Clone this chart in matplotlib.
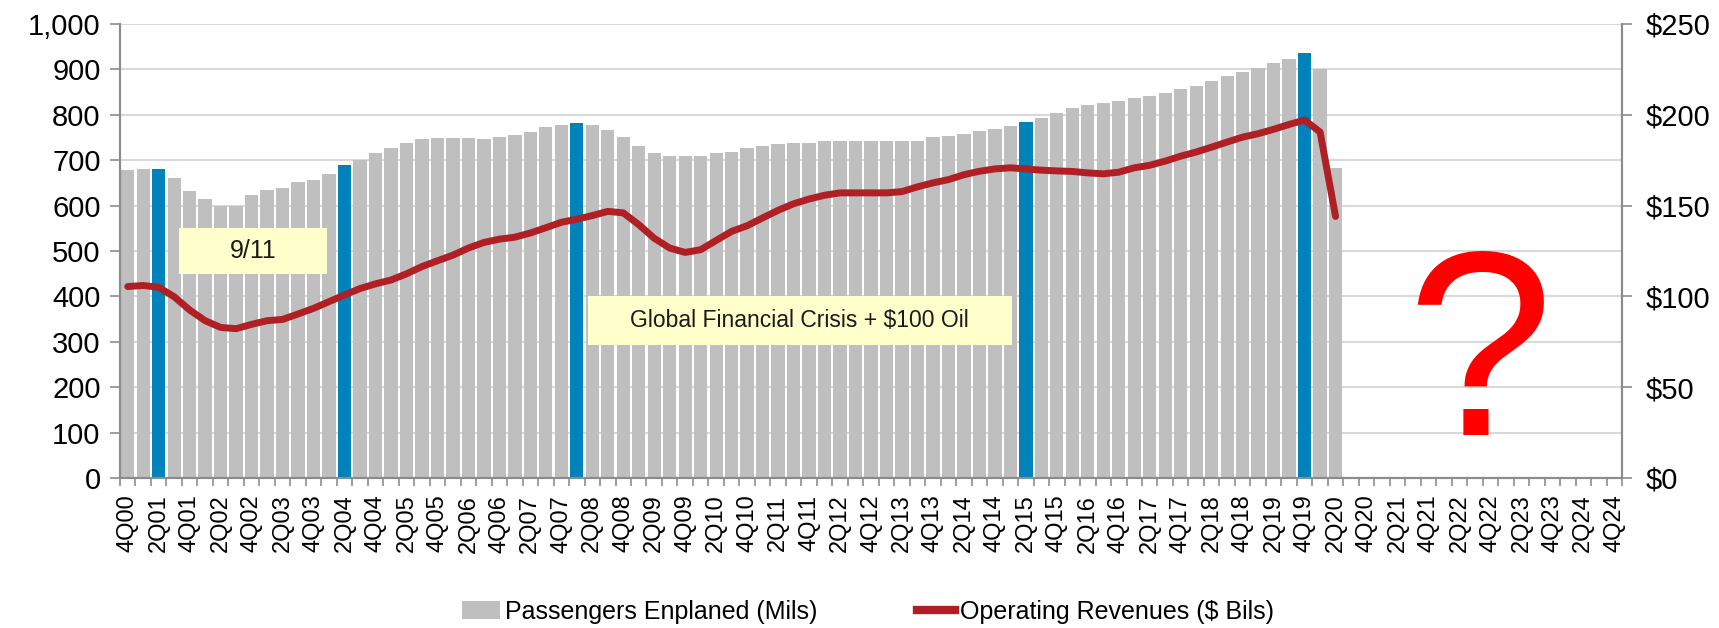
import numpy as np
import matplotlib
matplotlib.use("Agg")
from matplotlib import pyplot as plt
from matplotlib.patches import Rectangle, Patch
from matplotlib.lines import Line2D
from matplotlib.ticker import FuncFormatter

plt.rcParams['font.family'] = ['Liberation Sans', 'DejaVu Sans']

# quarter labels 4Q00 .. 4Q24
quarters = ["4Q00"] + [f"{q}Q{y:02d}" for y in range(1, 25) for q in range(1, 5)]

# passengers enplaned (mils), 4Q00 .. 2Q20
passengers = [678, 680, 680, 661, 633, 615, 600, 600, 623, 634,
              639, 652, 657, 669, 689, 700, 715, 727, 738, 746,
              748, 748, 749, 747, 752, 755, 762, 773, 777, 781,
              777, 766, 751, 731, 715, 710, 709, 710, 716, 719,
              727, 731, 735, 738, 738, 742, 743, 743, 743, 743,
              743, 743, 750, 753, 758, 764, 769, 775, 785,
              794, 805, 814, 821, 825, 830, 836, 842, 847, 856,
              864, 875, 886, 895, 903, 913, 922, 936, 900, 683]

# operating revenues ($ bils)
revenues = [105.4, 106, 105, 99.8, 92.5, 86.6, 82.9, 82.2, 84.6, 86.6,
            87.3, 90.3, 93.4, 97.1, 100.8, 104.3, 106.9, 109, 112.4, 116.4,
            119.6, 122.7, 126.6, 129.7, 131.5, 132.6, 134.9, 137.8, 140.8, 142.5,
            144.5, 146.8, 146, 139.5, 132, 126.6, 124.2, 125.7, 130.8, 135.8,
            138.9, 143.2, 147.4, 151, 153.6, 155.7, 157, 157, 157, 157,
            157.7, 160.3, 162.5, 164.3, 167, 168.9, 170.2, 170.8, 170.2,
            169.5, 169.1, 168.8, 168, 167.5, 168.4, 170.8, 172.2, 174.5, 177.2,
            179.5, 182.2, 185, 187.7, 189.6, 192, 194.7, 197.1, 190.5, 144]

# quarters shown in blue
highlight = ["2Q01", "2Q04", "1Q08", "2Q15", "4Q19"]

GRAY = "#bfbfbf"
BLUE = "#0082bb"
RED = "#b01f24"
AXC = "#8c8c8c"

fig = plt.figure(figsize=(17.19, 6.28), dpi=100)
ax = fig.add_axes([0.0698, 0.2389, 0.8738, 0.7229])

x = np.arange(len(passengers))
colors = [BLUE if quarters[i] in highlight else GRAY for i in x]
ax.bar(x, passengers, width=0.86, color=colors, zorder=2)

ax.set_xlim(-0.5, len(quarters) - 0.5)
ax.set_ylim(0, 1000)
ax.set_yticks(range(0, 1001, 100))
ax.yaxis.set_major_formatter(FuncFormatter(lambda v, p: f"{int(v):,}"))
ax.grid(axis='y', color='#d9d9d9', linewidth=1.5, zorder=0)
ax.set_axisbelow(True)

ax.set_xticks(np.arange(0, len(quarters), 2))
ax.set_xticklabels(quarters[::2], rotation=90, fontsize=17)
ax.set_xticks(np.arange(-0.5, len(quarters), 1), minor=True)
ax.tick_params(axis='x', which='major', length=0, pad=12)
ax.tick_params(axis='x', which='minor', length=6, color=AXC, width=1.2)
ax.tick_params(axis='y', labelsize=21, length=7, color=AXC, width=1.2, pad=7)

ax.spines['top'].set_visible(False)
for s in ['left', 'bottom', 'right']:
    ax.spines[s].set_color(AXC)
    ax.spines[s].set_linewidth(1.5)

ax2 = ax.twinx()
ax2.plot(x, revenues, color=RED, linewidth=5, solid_joinstyle='round',
         solid_capstyle='round', zorder=4)
ax2.set_ylim(0, 250)
ax2.set_yticks(range(0, 251, 50))
ax2.yaxis.set_major_formatter(FuncFormatter(lambda v, p: f"${int(v)}"))
ax2.tick_params(axis='y', labelsize=21, length=7, color=AXC, width=1.2, pad=10)
ax2.spines['top'].set_visible(False)
for s in ['left', 'bottom', 'right']:
    ax2.spines[s].set_color(AXC)
    ax2.spines[s].set_linewidth(1.5)

# annotation boxes
ax.add_patch(Rectangle((3.3, 449), 9.55, 102, facecolor='#ffffcc', edgecolor='none', zorder=5))
ax.text(8.1, 500, "9/11", ha='center', va='center', fontsize=18, color='#1a1a1a', zorder=6)
ax.add_patch(Rectangle((29.7, 293), 27.4, 108, facecolor='#ffffcc', edgecolor='none', zorder=5))
ax.text(43.4, 347, "Global Financial Crisis + $100 Oil", ha='center', va='center',
        fontsize=16.5, color='#1a1a1a', zorder=6)

ax.text(87.3, 95, "?", ha='center', va='baseline', fontsize=190,
        color='#ff0000', zorder=6)

handles = [Patch(facecolor=GRAY, edgecolor='none'),
           Line2D([0], [0], color=RED, linewidth=6)]
fig.legend(handles, ["Passengers Enplaned (Mils)", "Operating Revenues ($ Bils)"],
           loc='center', bbox_to_anchor=(0.505, 0.026), ncol=2, frameon=False,
           fontsize=18, handlelength=1.5, handletextpad=0.2, columnspacing=4)

fig.savefig("out.png", dpi=100)
